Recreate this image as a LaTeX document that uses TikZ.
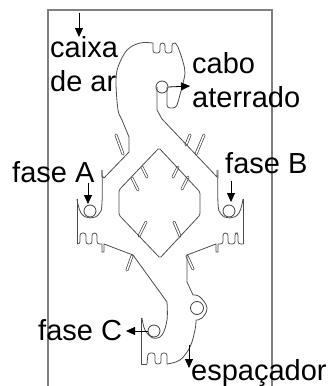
\documentclass[tikz,border=0pt]{standalone}
\usepackage{fontspec}
\setmainfont{Liberation Sans}
\usetikzlibrary{arrows.meta}
\tikzset{
  outline/.style={draw=black!70,line width=0.8pt,line join=round},
  framebox/.style={draw=black!50,line width=1.3pt},
  spike/.style={draw=black!75,double=white,double distance=1.5pt,line width=0.7pt,line cap=round},
  hole/.style={circle,draw=black!75,line width=0.8pt,inner sep=0pt,minimum size=12pt},
  lab/.style={anchor=base west,inner sep=0pt,font=\fontsize{29}{29}\selectfont,text=black},
  pointer/.style={draw=black,line width=0.8pt,-{Triangle[length=9pt,width=8pt]}}
}
\begin{document}
\begin{tikzpicture}[x=1pt,y=-1pt]
\useasboundingbox (0,0) rectangle (329,386);
% frame
\draw[framebox] (48,386) -- (48,10) -- (272,10) -- (272,386);
% spikes first
\draw[spike] (116,135) -- (123,154);
\draw[spike] (204,135) -- (196,154);
\draw[spike] (190,135) -- (186,145);
\draw[spike] (147,177) -- (142,167);
\draw[spike] (138,190) -- (132,178);
\draw[spike] (173,177) -- (178,167);
\draw[spike] (182,189) -- (188,177);
\draw[spike] (146,222) -- (139,236);
\draw[spike] (174,222) -- (180,236);
\draw[spike] (127,270) -- (132,256);
\draw[spike] (193,269) -- (187,256);
% top S-shaped part, left edge
\draw[outline] plot[smooth,tension=.55] coordinates {(129,137) (122,120) (118,110) (116,83) (118,67) (127,50) (140,43) (153,43)};
\draw[outline] (129,137) -- (129,152) -- (104,178) -- (102,176) -- (102,170);
% top notches and right edge
\draw[outline,rounded corners=2.5pt] (153,43) -- (153,53) -- (160,53) -- (160,43) -- (165,43) -- (165,53) -- (172,53) -- (172,43) -- (175,43);
\draw[outline] plot[smooth,tension=.55] coordinates {(175,43) (178,47) (183,62) (185,73) (182,87) (178,102)};
\draw[outline,rounded corners=3pt] (178,102) -- (176,108) -- (167,108) -- (167,87);
\draw[outline] (157,87) -- (157,110) -- (162,119) -- (217,177) -- (217,170);
% left phase cup
\draw[outline] plot[smooth,tension=.7] coordinates {(102,170) (102,203) (99,214) (90,218) (81,213) (77,199)};
% right phase cup
\draw[outline] plot[smooth,tension=.7] coordinates {(218,170) (218,203) (221,214) (230,218) (239,213) (243,199)};
% left lower block
\draw[outline] (77,199) -- (77,244);
\draw[outline,rounded corners=2.5pt] (77,244) -- (80,244) -- (80,233) -- (86,233) -- (86,244) -- (92,244) -- (92,233) -- (97,233) -- (97,244) -- (102,244);
\draw[outline] (102,244) -- (102,252) -- (104,252) -- (104,244) -- (133,255) -- (167,302);
% right lower block
\draw[outline] (243,199) -- (243,244);
\draw[outline,rounded corners=2.5pt] (243,244) -- (238,244) -- (238,233) -- (235,233) -- (235,244) -- (228,244) -- (228,233) -- (223,233) -- (223,244) -- (218,244);
\draw[outline] (218,244) -- (218,252) -- (216,252) -- (216,244) -- (187,255) -- (187,282) -- (193,295);
% diamond
\draw[outline,rounded corners=1.5pt] (159,148) -- (200,192) -- (200,215) -- (160,258) -- (119,215) -- (119,190) -- cycle;
% lower S
\draw[outline] plot[smooth,tension=.6] coordinates {(167,302) (167,320) (162,335) (153,338) (145,330) (142,318)};
\draw[outline] (141,318) -- (141,364) -- (147,364);
\draw[outline,rounded corners=2.5pt] (147,364) -- (148,353) -- (155,353) -- (155,364) -- (161,364) -- (161,353) -- (167,353) -- (167,364);
\draw[outline] plot[smooth,tension=.6] coordinates {(167,364) (180,360) (190,347) (195,330) (196,320)};
\draw[outline] plot[smooth,tension=.7] coordinates {(193,295) (200,297) (207,308) (202,318) (196,320)};
% holes
\node[hole] (hcabo) at (162,87) {};
\node[hole] (hA) at (90,211) {};
\node[hole] (hB) at (229,211) {};
\node[hole] (hC) at (154,331) {};
\node[hole,minimum size=13pt] (hesp) at (197,308) {};
% labels
\node[lab] (caixa) at (50,57) {caixa};
\node[lab] (dear) at (50,91) {de ar};
\node[lab] (cabo) at (192,73) {cabo};
\node[lab] (aterrado) at (192,107) {aterrado};
\node[lab] (faseA) at (12,182) {fase A};
\node[lab] (faseB) at (225,173) {fase B};
\node[lab] (faseC) at (38,340) {fase C};
\node[lab] (espacador) at (191,380) {espaçador};
% pointers
\coordinate (c1) at (79,13);
\coordinate (c2) at (79,37);
\coordinate (c3) at (190,86);
\coordinate (a1) at (88,183);
\coordinate (a2) at (88,204);
\coordinate (b1) at (231,181);
\coordinate (b2) at (231,202);
\coordinate (cc2) at (126,331);
\coordinate (e1) at (189,345);
\coordinate (e2) at (189,368);
\draw[pointer] (c1) -- (c2);
\draw[pointer] (hcabo.east) -- (c3);
\draw[pointer] (a1) -- (a2);
\draw[pointer] (b1) -- (b2);
\draw[pointer] (hC.west) -- (cc2);
\draw[pointer] (e1) -- (e2);
\end{tikzpicture}
\end{document}
